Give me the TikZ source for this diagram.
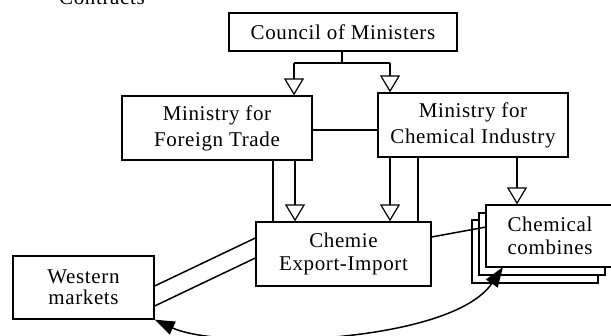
\documentclass[tikz,border=0pt]{standalone}
\usepackage{fontspec}
\setmainfont[LetterSpace=3]{Liberation Serif}
\usetikzlibrary{arrows.meta,calc}
\begin{document}
\begin{tikzpicture}[x=1pt,y=-1pt,
 txt/.style={font=\fontsize{21}{26}\selectfont},
 box/.style={txt,draw,line width=1.3pt,fill=white,align=center,inner sep=0pt},
 conn/.style={line width=1.5pt},
 oarr/.style={conn,-{Triangle[fill=white,width=20pt,length=17pt,line width=1.2pt]}},
 farr/.style={conn,{Triangle[width=14pt,length=20pt]}-{Triangle[width=14pt,length=20pt]}}]
\useasboundingbox (0,0) rectangle (611,335);
\clip (0,0) rectangle (611,335);
\node[txt,anchor=base] (contracts) at (102,4) {Contracts};
% boxes
\node[box,minimum width=228pt,minimum height=38pt] (council) at (343,32) {Council of Ministers};
\node[box,minimum width=190pt,minimum height=64pt] (mft) at (217,128) {Ministry for\\Foreign Trade};
\node[box,minimum width=190pt,minimum height=64pt] (mci) at (473,125) {Ministry for\\Chemical Industry};
\node[box,minimum width=175pt,minimum height=64pt,font=\fontsize{21}{23}\selectfont] (chemie) at (343.5,254) {Chemie\\Export-Import};
\node[box,minimum width=141pt,minimum height=63pt,font=\fontsize{21}{21}\selectfont] (west) at (83.5,287.5) {Western\\markets};
\draw[line width=1.3pt,fill=white] (472,220) rectangle (598,283);
\draw[line width=1.3pt,fill=white] (479,213) rectangle (605,275);
\coordinate (cc) at (486,227);
\draw[conn] (chemie.east |- 0,237) -- (cc);
\node[box,minimum width=128pt,minimum height=62pt,font=\fontsize{21}{23}\selectfont] (comb) at (550,236) {Chemical\\combines};
% council connectors
\coordinate (jc) at (342,63);
\coordinate (l1) at (294,63);
\coordinate (r1) at (390,63);
\draw[conn] (council.south -| jc) -- (jc);
\draw[conn] (l1) -- (r1);
\draw[oarr] (l1) -- (l1 |- mft.north);
\draw[oarr] (r1) -- (r1 |- mci.north);
% ministries link
\draw[conn] (mft.east |- 0,130) -- (mci.west |- 0,130);
% down connectors
\draw[conn] (mft.south -| 273,0) -- (chemie.north -| 273,0);
\draw[oarr] (mft.south -| 295,0) -- (chemie.north -| 295,0);
\draw[oarr] (mci.south -| 390,0) -- (chemie.north -| 390,0);
\draw[conn] (mci.south -| 418,0) -- (chemie.north -| 418,0);
\draw[oarr] (mci.south -| 517,0) -- (comb.north -| 517,0);
% western links
\draw[conn] (chemie.west |- 0,238) -- (west.east |- 0,286);
\draw[conn] (chemie.west |- 0,258) -- (west.east |- 0,306);
% curved arrow
\coordinate (ce) at (503,267);
\draw[farr] (west.south east) .. controls (220,350) and (450,345) .. (ce);
\end{tikzpicture}
\end{document}
